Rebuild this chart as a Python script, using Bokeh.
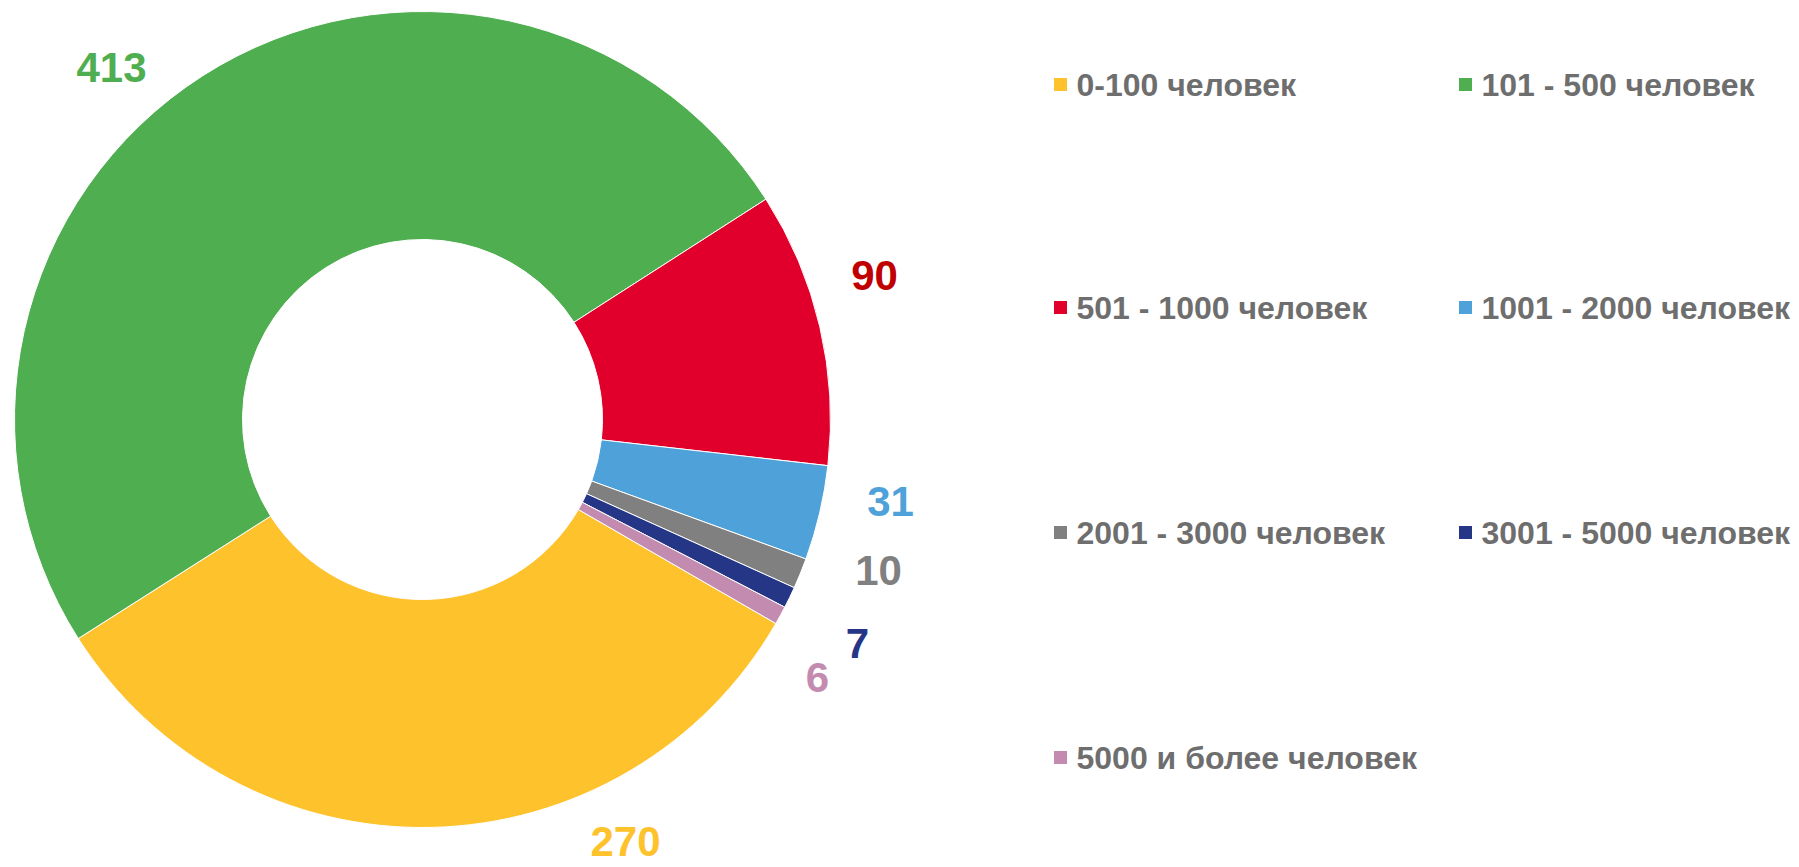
import math
from bokeh.plotting import figure
from bokeh.models import Range1d, ColumnDataSource
from bokeh.core.properties import value
from bokeh.embed import file_html
from bokeh.resources import INLINE

# ---- data ----
categories = ["0-100 человек", "101 - 500 человек", "501 - 1000 человек",
              "1001 - 2000 человек", "2001 - 3000 человек", "3001 - 5000 человек",
              "5000 и более человек"]
counts = [270, 413, 90, 31, 10, 7, 6]
colors = ["#FEC22D", "#4FAE50", "#E0002B", "#4FA1D9", "#808080", "#263687", "#C48BB1"]
label_colors = ["#FEC22D", "#4FAE50", "#C00000", "#4FA1D9", "#808080", "#263687", "#C48BB1"]

# ---- layout ----
W, H = 1799, 867
cx, cy = 422, H - 419
r_out, r_in = 408, 180
first_angle = 120.0  # degrees clockwise from 12 o'clock
label_pos = [(625, 841), (111, 67), (874, 275), (890, 501), (878, 570), (857, 643), (817, 677)]
legend_cols = [1060, 1465]
legend_rows = [84, 307, 532, 757]

total = sum(counts)
starts, ends = [], []
c = first_angle
for v in counts:
    c1 = c + v / total * 360.0
    starts.append(math.radians(90 - c))
    ends.append(math.radians(90 - c1))
    c = c1

src = ColumnDataSource(dict(start=starts, end=ends, color=colors,
                            x=[cx] * len(counts), y=[cy] * len(counts)))

p = figure(width=W, height=H, x_range=Range1d(0, W), y_range=Range1d(0, H),
           x_axis_type=None, y_axis_type=None, toolbar_location=None,
           output_backend="svg", min_border=0)
p.grid.visible = False
p.outline_line_color = None
p.background_fill_color = "white"

p.annular_wedge(x="x", y="y", inner_radius=r_in, outer_radius=r_out,
                start_angle="start", end_angle="end", direction="clock",
                fill_color="color", line_color="white", line_width=1, source=src)

lsrc = ColumnDataSource(dict(x=[q[0] for q in label_pos], y=[H - q[1] for q in label_pos],
                             t=[str(v) for v in counts], c=label_colors))
p.text(x="x", y="y", text="t", text_color="c", source=lsrc,
       text_font=value("Liberation Sans"), text_font_style="bold",
       text_font_size="42px", text_align="center", text_baseline="middle")

mx, my, tx, ty = [], [], [], []
for i, cat in enumerate(categories):
    col = i % 2
    row = i // 2
    mx.append(legend_cols[col])
    my.append(H - legend_rows[row])
    tx.append(legend_cols[col] + 16)
    ty.append(H - legend_rows[row])

p.rect(x=mx, y=my, width=13, height=13, fill_color=colors, line_color=None)
p.text(x=tx, y=ty, text=categories, text_color="#6E6E6E",
       text_font=value("Liberation Sans"), text_font_style="bold",
       text_font_size="32px", text_align="left", text_baseline="middle")

open("out.html", "w").write(file_html(p, INLINE))
